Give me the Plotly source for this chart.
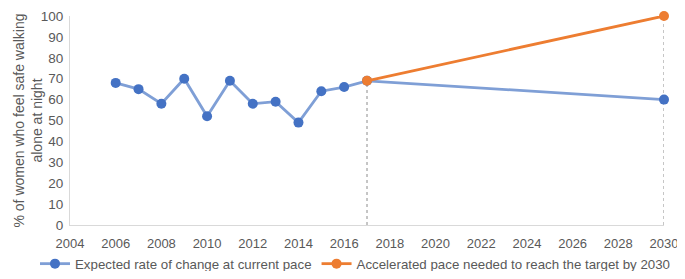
import plotly.graph_objects as go

years_current = [2006, 2007, 2008, 2009, 2010, 2011, 2012, 2013, 2014, 2015, 2016, 2017, 2030]
values_current = [68, 65, 58, 70, 52, 69, 58, 59, 49, 64, 66, 69, 60]
years_accel = [2017, 2030]
values_accel = [69, 100]
drop_years = [2017, 2030]
x_ticks = list(range(2004, 2031, 2))
y_ticks = list(range(0, 101, 10))
y_title = "% of women who feel safe walking<br>alone at night"

FONT = "Liberation Sans, Arial, sans-serif"
GREY = "#595959"

W, H = 677, 263
L, R, T, B = 62, 21, 8, 46
PW, PH = W - L - R, H - T - B

fig = go.Figure()

# dotted drop lines
for yr in drop_years:
    top = max([v for y, v in zip(years_current, values_current) if y == yr] +
              [v for y, v in zip(years_accel, values_accel) if y == yr])
    fig.add_trace(go.Scatter(x=[yr, yr], y=[0, top], mode="lines",
                             line=dict(color="#8c8c8c", width=1, dash="dot"),
                             showlegend=False, hoverinfo="skip"))

fig.add_trace(go.Scatter(
    x=years_current, y=values_current, mode="lines+markers",
    name="Expected rate of change at current pace",
    line=dict(color="#7F9FD6", width=2.8),
    marker=dict(color="#4472C4", size=10),
    cliponaxis=False,
))
fig.add_trace(go.Scatter(
    x=years_accel, y=values_accel, mode="lines+markers",
    name="Accelerated pace needed to reach the target by 2030",
    line=dict(color="#ED7D31", width=2.8),
    marker=dict(color="#ED7D31", size=10),
    cliponaxis=False,
))

fig.add_annotation(
    text=y_title, xref="paper", yref="paper",
    x=(19 - L) / PW, y=0.5, xanchor="center", yanchor="middle",
    textangle=-90, showarrow=False,
    font=dict(family=FONT, size=14, color=GREY),
)

fig.update_layout(
    width=W, height=H,
    margin=dict(l=L, r=R, t=T, b=B, autoexpand=False),
    plot_bgcolor="white", paper_bgcolor="white",
    font=dict(family=FONT, size=13, color=GREY),
    xaxis=dict(range=[2004, 2030], tickmode="array", tickvals=x_ticks,
               showgrid=False, zeroline=False, showline=True,
               linecolor="#D9D9D9", linewidth=1, ticks="",
               ticklabeloverflow="allow", ticklabelstandoff=6,
               tickfont=dict(size=13, color=GREY), automargin=False),
    yaxis=dict(range=[0, 100], tickmode="array", tickvals=y_ticks,
               showgrid=False, zeroline=False,
               showline=True, linecolor="#D9D9D9", linewidth=1, ticks="",
               ticklabeloverflow="allow", ticklabelstandoff=3,
               tickfont=dict(size=13.5, color=GREY), automargin=False),
    legend=dict(orientation="h", x=(27 - L) / PW, xanchor="left",
                y=(PH + T - 256) / PH, yanchor="middle",
                font=dict(size=13.3, color=GREY), itemwidth=30, tracegroupgap=0),
    showlegend=True,
)

fig.write_html("out.html")
